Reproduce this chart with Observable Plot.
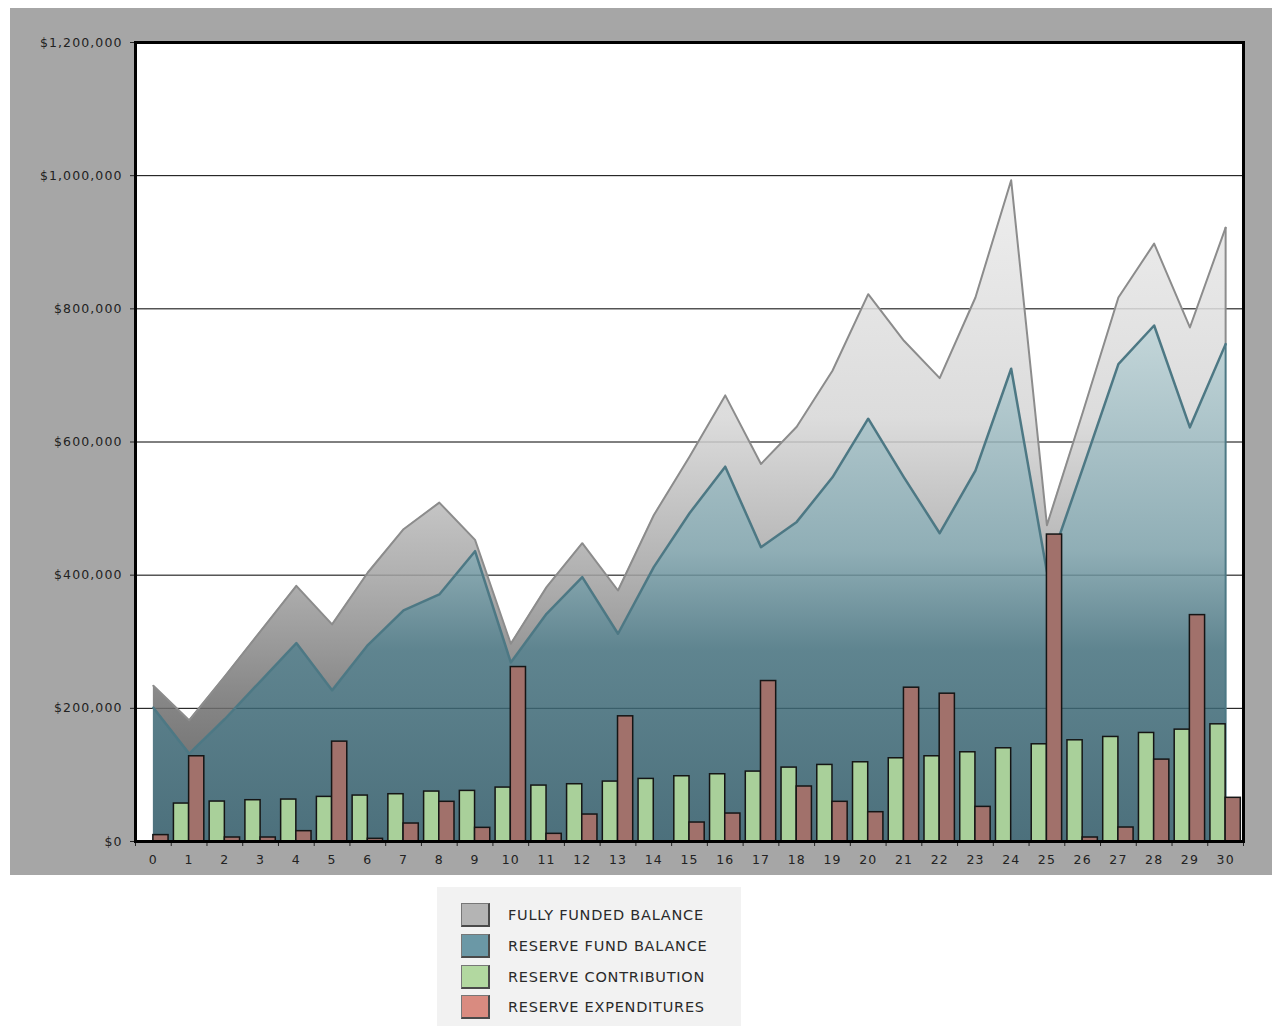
<!DOCTYPE html>
<html>
<head>
<meta charset="utf-8">
<script src="https://cdn.jsdelivr.net/npm/d3@7"></script>
<script src="https://cdn.jsdelivr.net/npm/@observablehq/plot@0.6"></script>
<style>
  html, body { margin: 0; padding: 0; background: #ffffff; width: 1272px; height: 1026px; overflow: hidden; }
  #chart { position: absolute; left: 10px; top: 8px; }
  #chart svg text { font-size: 12.5px; font-family: "DejaVu Sans", sans-serif; letter-spacing: 1.1px; fill: #222; }
  #legend { position: absolute; left: 437px; top: 887px; width: 304px; height: 139px; background: #f2f2f2; }
  .row { position: absolute; left: 24px; height: 24px; display: flex; align-items: center; }
  .sw { width: 26px; height: 21px; border: 1px solid #777; border-right: 2px solid #4a4a4a; border-bottom: 2px solid #4a4a4a; box-sizing: content-box; }
  .lbl { margin-left: 18px; font-family: "DejaVu Sans", sans-serif; font-size: 14.5px; letter-spacing: 0.75px; color: #2a2a2a; }
</style>
</head>
<body>
<div id="chart"></div>
<div id="legend"></div>
<script>
// ---- data ----
const years = [0,1,2,3,4,5,6,7,8,9,10,11,12,13,14,15,16,17,18,19,20,21,22,23,24,25,26,27,28,29,30];
const fullyFunded = [234000,182000,248000,316000,384000,326000,404000,469000,509000,453000,297000,382000,448000,377000,490000,578000,670000,567000,623000,707000,822000,752000,696000,817000,993000,475000,644000,817000,898000,772000,922000];
const reserveBalance = [201000,132000,184000,241000,298000,227000,295000,347000,371000,436000,269000,342000,397000,312000,412000,493000,563000,442000,480000,547000,635000,547000,463000,557000,710000,405000,560000,717000,775000,622000,747000];
const contribution = [0,57000,60000,62000,63000,67000,69000,71000,75000,76000,81000,84000,86000,90000,94000,98000,101000,105000,111000,115000,119000,125000,128000,134000,140000,146000,152000,157000,163000,168000,176000];
const expenditures = [9600,128000,6000,6000,15500,150000,4000,27000,59600,20500,262000,11500,40500,188000,0,28500,42000,241000,82600,59600,44000,231000,222000,52000,0,461000,6000,21000,123000,340000,65600];
const yTicks = [0,200000,400000,600000,800000,1000000,1200000];
const gridValues = [200000,400000,600000,800000,1000000];
const legendItems = [
  {label: "FULLY FUNDED BALANCE", color: "#b4b4b4"},
  {label: "RESERVE FUND BALANCE", color: "#6b98a6"},
  {label: "RESERVE CONTRIBUTION", color: "#b2d8a0"},
  {label: "RESERVE EXPENDITURES", color: "#d98b80"}
];

const data = years.map((y, i) => ({
  year: y, ffb: fullyFunded[i], rfb: reserveBalance[i],
  contrib: contribution[i], exp: expenditures[i]
}));
const last = [data[data.length - 1]];
const boundaries = years.map(y => y - 0.5).concat([years[years.length - 1] + 0.5]);
const half = 0.425;

const chart = Plot.plot({
  width: 1262,
  height: 867,
  marginLeft: 125,
  marginTop: 34,
  marginRight: 29,
  marginBottom: 34,
  style: {background: "#a6a6a6", fontFamily: "DejaVu Sans, sans-serif", fontSize: "12.5px", color: "#222"},
  x: {type: "linear", domain: [boundaries[0], boundaries[boundaries.length - 1]], ticks: boundaries, tickFormat: () => "", tickSize: 5, label: null},
  y: {domain: [0, 1200000], ticks: yTicks, tickFormat: d3.format("$,"), tickSize: 5, tickPadding: 8, label: null},
  marks: [
    Plot.frame({fill: "white"}),
    Plot.ruleY(gridValues, {stroke: "black", strokeWidth: 1}),
    Plot.areaY(data, {x: "year", y1: "rfb", y2: "ffb", fill: "url(#ffbGrad)", fillOpacity: 0.85}),
    Plot.areaY(data, {x: "year", y1: 0, y2: "rfb", fill: "url(#rfbGrad)", fillOpacity: 0.85}),
    Plot.lineY(data, {x: "year", y: "ffb", stroke: "#8c8c8c", strokeWidth: 2}),
    Plot.ruleX(last, {x: "year", y1: "rfb", y2: "ffb", stroke: "#8c8c8c", strokeWidth: 2}),
    Plot.lineY(data, {x: "year", y: "rfb", stroke: "#4d7884", strokeWidth: 2.5}),
    Plot.ruleX(last, {x: "year", y1: 0, y2: "rfb", stroke: "#4d7884", strokeWidth: 2}),
    Plot.rectY(data, {x1: d => d.year - half, x2: "year", y1: 0, y2: "contrib", fill: "#a9d09a", stroke: "#151515", strokeWidth: 1.5}),
    Plot.rectY(data.filter(d => d.exp > 0), {x1: "year", x2: d => d.year + half, y1: 0, y2: "exp", fill: "#a1716b", stroke: "#151515", strokeWidth: 1.5}),
    Plot.frame({stroke: "black", strokeWidth: 3}),
    Plot.text(years, {x: d => d, y: 0, dy: 18, text: d => String(d), fontSize: 12.5, fill: "#222"})
  ]
});

// gradient definitions (user space, spanning the plot's y range)
const ns = "http://www.w3.org/2000/svg";
const defs = document.createElementNS(ns, "defs");
function grad(id, stops) {
  const g = document.createElementNS(ns, "linearGradient");
  g.setAttribute("id", id);
  g.setAttribute("gradientUnits", "userSpaceOnUse");
  g.setAttribute("x1", 0); g.setAttribute("x2", 0);
  g.setAttribute("y1", 34); g.setAttribute("y2", 833);
  for (const [o, c] of stops) {
    const s = document.createElementNS(ns, "stop");
    s.setAttribute("offset", o);
    s.setAttribute("stop-color", c);
    g.appendChild(s);
  }
  defs.appendChild(g);
}
grad("ffbGrad", [[0, "#f3f3f3"], [0.17, "#ebebeb"], [0.47, "#d6d6d6"], [0.67, "#a2a2a2"], [0.76, "#868686"], [0.82, "#727272"], [1, "#454545"]]);
grad("rfbGrad", [[0, "#dce7ea"], [0.36, "#b8ced2"], [0.636, "#7ca0a9"], [0.761, "#436f7c"], [1, "#2d5765"]]);
chart.insertBefore(defs, chart.firstChild);

document.getElementById("chart").appendChild(chart);

const legend = document.getElementById("legend");
const tops = [16, 47, 78, 108];
legendItems.forEach((it, i) => {
  const row = document.createElement("div");
  row.className = "row";
  row.style.top = tops[i] + "px";
  const sw = document.createElement("div");
  sw.className = "sw";
  sw.style.background = it.color;
  const lbl = document.createElement("span");
  lbl.className = "lbl";
  lbl.textContent = it.label;
  row.appendChild(sw);
  row.appendChild(lbl);
  legend.appendChild(row);
});
</script>
</body>
</html>
